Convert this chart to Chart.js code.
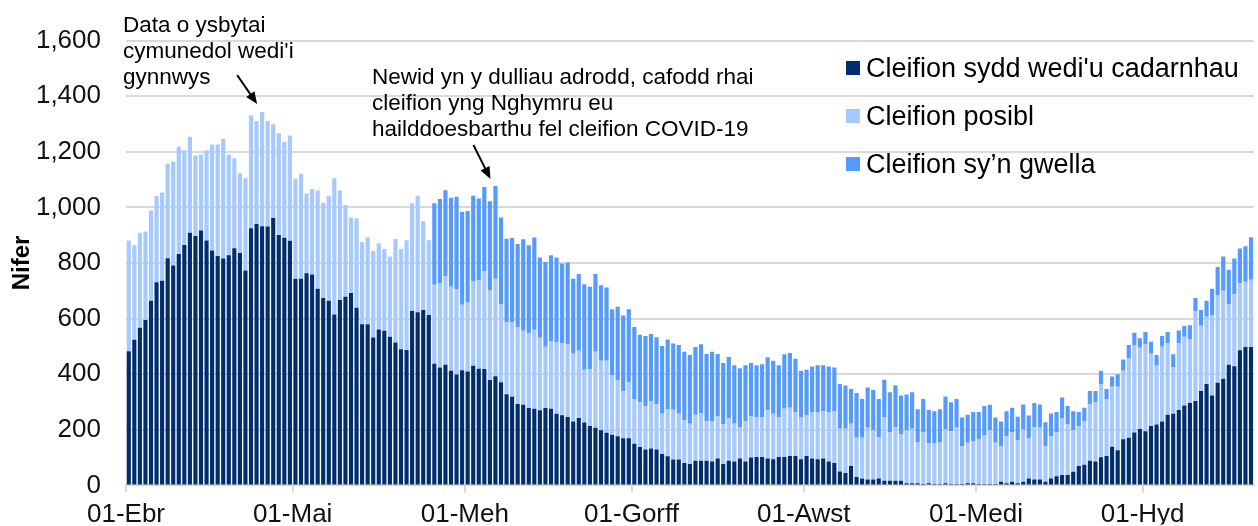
<!DOCTYPE html>
<html>
<head>
<meta charset="utf-8">
<script src="https://cdn.jsdelivr.net/npm/chart.js@4.4.1/dist/chart.umd.min.js"></script>
<style>
  html, body { margin: 0; padding: 0; background: #fff; }
  #wrap { width: 1258px; height: 526px; }
</style>
</head>
<body>
<div id="wrap"><canvas id="chart" width="1258" height="526"></canvas></div>
<script>
// months shown on the axis: name and number of days included
const months = [['Ebr', 30], ['Mai', 31], ['Meh', 30], ['Gorff', 31], ['Awst', 31], ['Medi', 30], ['Hyd', 20]];

const yTicks = [0, 200, 400, 600, 800, 1000, 1200, 1400, 1600];

const seriesNames = ["Cleifion sydd wedi'u cadarnhau", 'Cleifion posibl', 'Cleifion sy’n gwella'];
const seriesColors = ['#002D6B', '#A6C9FF', '#559BFF'];

// confirmed patients (dark)
const confirmed = [
  483, 524, 567, 595, 664, 731, 736, 817, 791, 832, 865, 909, 897, 917, 881, 845, 825, 816, 828, 853, 836, 773, 925, 940, 932,
  931, 962, 901, 891, 880, 743, 743, 763, 759, 707, 674, 664, 615, 667, 679, 692, 639, 580, 580, 532, 561, 556, 535, 514, 490, 487, 627, 623, 631, 613,
  438, 424, 434, 412, 399, 414, 410, 430, 420, 419, 379, 393, 371, 328, 319, 293, 290, 278, 276, 270, 278, 276, 258, 252, 246, 230, 242, 226, 214, 207, 198, 189, 182, 177, 170,
  170, 150, 138, 129, 133, 129, 113, 105, 93, 93, 81, 77, 89, 89, 89, 86, 97, 77, 89, 86, 97, 86, 100, 102, 102, 97, 94, 102, 102, 106, 106, 94, 106, 97, 94,
  97, 86, 81, 50, 45, 70, 30, 25, 21, 21, 25, 17, 17, 17, 17, 8, 8, 8, 5, 8, 5, 5, 8, 5, 5, 5, 8, 8, 5, 5, 5, 5, 13, 8, 13,
  8, 13, 25, 21, 21, 13, 25, 33, 37, 37, 49, 70, 74, 89, 86, 101, 106, 139, 126, 166, 171, 190, 203, 195, 214, 219, 230, 254, 258, 271, 287, 296, 304, 340, 365, 323, 369, 384, 434, 429, 486, 498, 498,
];

// suspected patients (light)
const possible = [
  398, 340, 342, 318, 325, 310, 318, 340, 374, 386, 341, 345, 290, 273, 325, 381, 401, 431, 362, 324, 287, 332, 406, 371, 411,
  380, 337, 366, 344, 379, 360, 378, 287, 307, 354, 343, 377, 490, 394, 330, 272, 322, 295, 313, 311, 309, 294, 288, 372, 360, 395, 388, 419, 319, 269,
  284, 303, 317, 303, 306, 236, 248, 305, 317, 352, 324, 350, 280, 258, 269, 277, 266, 269, 284, 261, 221, 243, 258, 259, 261, 244, 242, 190, 204, 274, 250, 259, 215, 200, 169,
  202, 161, 161, 157, 170, 163, 145, 169, 179, 165, 153, 145, 165, 171, 143, 146, 151, 142, 153, 136, 113, 146, 148, 142, 142, 173, 164, 142, 174, 173, 158, 150, 146, 167, 170,
  170, 178, 186, 154, 159, 152, 144, 146, 186, 177, 149, 227, 173, 193, 166, 190, 196, 146, 185, 143, 146, 149, 195, 190, 203, 136, 145, 152, 160, 176, 193, 148, 128, 169, 179,
  155, 188, 144, 189, 186, 128, 153, 157, 205, 182, 149, 144, 156, 202, 213, 264, 203, 216, 229, 246, 286, 313, 292, 312, 260, 211, 269, 256, 166, 239, 248, 230, 322, 234, 242, 289, 314, 316, 217, 259, 242, 235, 242,
];

// recovering patients (mid blue)
const recovering = [
  0, 0, 0, 0, 0, 0, 0, 0, 0, 0, 0, 0, 0, 0, 0, 0, 0, 0, 0, 0, 0, 0, 0, 0, 0,
  0, 0, 0, 0, 0, 0, 0, 0, 0, 0, 0, 0, 0, 0, 0, 0, 0, 0, 0, 0, 0, 0, 0, 0, 0, 0, 0, 0, 0, 0,
  293, 303, 311, 320, 333, 334, 329, 307, 295, 302, 319, 334, 313, 301, 302, 298, 329, 317, 332, 289, 305, 309, 304, 287, 295, 269, 276, 308, 297, 279, 272, 264, 237, 266, 272,
  262, 259, 243, 251, 242, 241, 243, 251, 238, 247, 247, 247, 244, 248, 241, 249, 225, 221, 220, 210, 211, 200, 192, 188, 192, 191, 190, 188, 196, 197, 192, 168, 164, 164, 168,
  165, 164, 157, 161, 155, 125, 158, 140, 145, 145, 137, 136, 145, 150, 140, 129, 131, 120, 121, 120, 116, 120, 117, 104, 103, 103, 101, 104, 99, 105, 92, 91, 89, 90, 87,
  84, 90, 82, 86, 84, 86, 81, 74, 74, 67, 69, 50, 49, 49, 41, 47, 38, 37, 45, 41, 48, 46, 34, 45, 43, 39, 38, 42, 48, 47, 38, 50, 48, 57, 57, 95, 103, 123, 125, 128, 124, 127, 153,
];

const labels = [];
const monthStart = [];
months.forEach(([name, days]) => {
  for (let d = 1; d <= days; d += 1) {
    labels.push(`${String(d).padStart(2, '0')}-${name}`);
    monthStart.push(d === 1);
  }
});

const notes = [
  { lines: ['Data o ysbytai', "cymunedol wedi'i", 'gynnwys'], x: 123, y: 32, bar: 24, arrow: [-25, -37, -5, -8] },
  { lines: ['Newid yn y dulliau adrodd, cafodd rhai', 'cleifion yng Nghymru eu', 'hailddoesbarthu fel cleifion COVID-19'], x: 372, y: 84, bar: 66, arrow: [-22, -41, -5, -7] },
];

const FONT = '"Liberation Sans", Arial, sans-serif';

const drawArrow = (ctx, x1, y1, x2, y2) => {
  const ang = Math.atan2(y2 - y1, x2 - x1);
  const head = 12;
  ctx.strokeStyle = '#000';
  ctx.fillStyle = '#000';
  ctx.lineWidth = 2;
  ctx.beginPath();
  ctx.moveTo(x1, y1);
  ctx.lineTo(x2 - Math.cos(ang) * head * 0.8, y2 - Math.sin(ang) * head * 0.8);
  ctx.stroke();
  ctx.beginPath();
  ctx.moveTo(x2, y2);
  ctx.lineTo(x2 - head * Math.cos(ang) + 5 * Math.sin(ang), y2 - head * Math.sin(ang) - 5 * Math.cos(ang));
  ctx.lineTo(x2 - head * Math.cos(ang) - 5 * Math.sin(ang), y2 - head * Math.sin(ang) + 5 * Math.cos(ang));
  ctx.closePath();
  ctx.fill();
};

const overlayPlugin = {
  id: 'overlay',
  afterDatasetsDraw(chart) {
    const { ctx, scales } = chart;
    ctx.save();

    // annotations
    ctx.font = `22.5px ${FONT}`;
    ctx.fillStyle = '#000';
    ctx.textBaseline = 'alphabetic';
    ctx.textAlign = 'left';
    notes.forEach((note) => {
      note.lines.forEach((line, i) => ctx.fillText(line, note.x, note.y + i * 26));
      const total = confirmed[note.bar] + possible[note.bar] + recovering[note.bar];
      const bx = scales.x.getPixelForValue(note.bar);
      const by = scales.y.getPixelForValue(total);
      const [sx, sy, tx, ty] = note.arrow;
      drawArrow(ctx, bx + sx, by + sy, bx + tx, by + ty);
    });

    // legend
    ctx.font = `27px ${FONT}`;
    seriesNames.forEach((name, i) => {
      const y = 77 + i * 48;
      ctx.fillStyle = seriesColors[i];
      ctx.fillRect(846, y - 16, 14, 14);
      ctx.fillStyle = '#000';
      ctx.fillText(name, 866, y);
    });
    ctx.restore();
  },
};

new Chart(document.getElementById('chart'), {
  type: 'bar',
  data: {
    labels,
    datasets: [
      { label: seriesNames[0], data: confirmed, backgroundColor: seriesColors[0] },
      { label: seriesNames[1], data: possible, backgroundColor: seriesColors[1] },
      { label: seriesNames[2], data: recovering, backgroundColor: seriesColors[2] },
    ],
  },
  options: {
    responsive: false,
    animation: false,
    devicePixelRatio: 1,
    datasets: { bar: { barPercentage: 0.75, categoryPercentage: 1 } },
    layout: { padding: { top: 36, right: 0, bottom: 0, left: 0 } },
    plugins: {
      legend: { display: false },
      tooltip: { enabled: false },
    },
    scales: {
      x: {
        stacked: true,
        afterFit: (scale) => { scale.height = 39; },
        border: { color: '#D9D9D9', width: 2 },
        grid: {
          offset: true,
          drawOnChartArea: false,
          drawTicks: true,
          tickLength: 7,
          lineWidth: 2,
          color: (c) => (monthStart[c.index] ? '#D9D9D9' : 'rgba(0,0,0,0)'),
        },
        ticks: {
          autoSkip: false,
          maxRotation: 0,
          minRotation: 0,
          padding: 7,
          labelOffset: -2.8,
          color: '#111',
          font: { family: FONT, size: 26 },
          callback: (v, i) => (monthStart[i] ? labels[i] : ''),
        },
      },
      y: {
        stacked: true,
        min: 0,
        max: 1600,
        afterFit: (scale) => { scale.width = 126; },
        afterBuildTicks: (scale) => { scale.ticks = yTicks.map((value) => ({ value })); },
        border: { display: false },
        grid: { color: '#D9D9D9', lineWidth: 2, drawTicks: false },
        ticks: {
          padding: 25,
          color: '#111',
          font: { family: FONT, size: 26 },
          callback: (v) => Number(v).toLocaleString('en-US'),
        },
        title: {
          display: true,
          text: 'Nifer',
          color: '#000',
          font: { family: FONT, size: 24, weight: 'bold' },
          padding: { top: 8, bottom: 0 },
        },
      },
    },
  },
  plugins: [overlayPlugin],
});
</script>
</body>
</html>
